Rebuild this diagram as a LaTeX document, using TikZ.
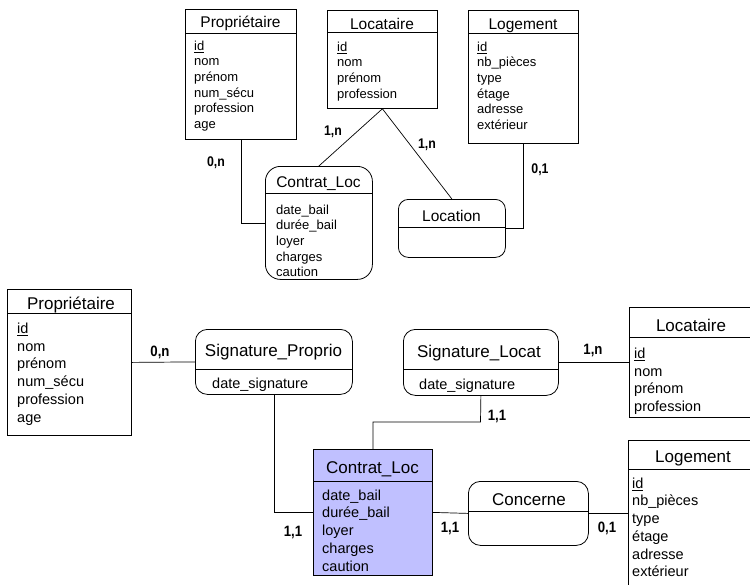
\documentclass[tikz,border=0pt]{standalone}
\usepackage{fontspec}
\setmainfont{Liberation Sans}
\newfontfamily\cardfont[FakeStretch=0.88]{Liberation Sans}
\definecolor{lavender}{RGB}{192,192,255}
\tikzset{
  x=1pt, y=-1pt,
  box/.style={draw, line width=0.8pt, inner sep=0pt, rectangle},
  relbox/.style={box, rounded corners=#1},
  relbox/.default=12pt,
  link/.style={line width=0.7pt},
  hdr/.style={line width=0.8pt},
  ttlA/.style={inner sep=0pt, anchor=base, font=\fontsize{15.5}{18}\selectfont},
  ttlB/.style={inner sep=0pt, anchor=base, font=\fontsize{17}{20}\selectfont},
  attA/.style={inner sep=0pt, anchor=north west, align=left, font=\fontsize{13}{15.6}\selectfont},
  attB/.style={inner sep=0pt, anchor=north west, align=left, font=\fontsize{14.5}{17.7}\selectfont},
  cardA/.style={inner sep=0pt, font=\cardfont\bfseries\fontsize{14}{16}\selectfont},
  cardB/.style={inner sep=0pt, font=\cardfont\bfseries\fontsize{15}{17}\selectfont},
}
% a box spanning (x1,y1)-(x2,y2)
\newcommand{\mkbox}[6]{%
  \node[#1, minimum width={#4-#2}, minimum height={#5-#3}, anchor=north west] (#6) at (#2,#3) {};}
\begin{document}
\begin{tikzpicture}
\clip (0,0) rectangle (750,584);
\fill[white] (0,0) rectangle (750,584);

% ---------------- upper schema ----------------
\mkbox{box}{185}{9}{296}{139}{p1}
\draw[hdr] (185,33) -- (296,33);
\node[ttlA] (p1t) at (240.5,27) {Propriétaire};
\node[attA] (p1a) at (194,40) {\rule{0pt}{10pt}\underline{id}\\nom\\prénom\\num\_sécu\\profession\\age};

\mkbox{box}{327}{10}{437}{108}{l1}
\draw[hdr] (327,32) -- (437,32);
\node[ttlA] (l1t) at (382,29) {Locataire};
\node[attA] (l1a) at (337,41) {\rule{0pt}{10pt}\underline{id}\\nom\\prénom\\profession};

\mkbox{box}{468}{10}{578}{143}{g1}
\draw[hdr] (468,33) -- (578,33);
\node[ttlA] (g1t) at (523,29) {Logement};
\node[attA] (g1a) at (477,41) {\rule{0pt}{10pt}\underline{id}\\nb\_pièces\\type\\étage\\adresse\\extérieur};

\mkbox{relbox=15pt}{265}{166}{372}{279}{c1}
\draw[hdr] (265,193) -- (372,193);
\node[ttlA] (c1t) at (318.5,187) {Contrat\_Loc};
\node[attA] (c1a) at (276,204) {\rule{0pt}{10pt}date\_bail\\durée\_bail\\loyer\\charges\\caution};

\mkbox{relbox=10pt}{398}{199}{505}{257}{loc}
\draw[hdr] (398,227) -- (505,227);
\node[ttlA] (loct) at (451.5,221) {Location};

\draw[link] (p1.south) |- (c1.west);
\draw[link] (l1.south) -- (c1.north);
\draw[link] (l1.south) -- (loc.north);
\draw[link] (g1.south) |- (loc.east);

\node[cardA] (k1) at (216,163) {0,n};
\node[cardA] (k2) at (333,132) {1,n};
\node[cardA] (k3) at (427,145) {1,n};
\node[cardA] (k4) at (540,170) {0,1};

% ---------------- lower schema ----------------
\mkbox{box}{7}{289}{131}{435}{p2}
\draw[hdr] (7,313) -- (131,313);
\node[ttlB] (p2t) at (71,309) {Propriétaire};
\node[attB] (p2a) at (17,322) {\rule{0pt}{11.3pt}\underline{id}\\nom\\prénom\\num\_sécu\\profession\\age};

\mkbox{relbox=12pt}{195}{329}{352}{394}{sp}
\draw[hdr] (195,369) -- (352,369);
\node[ttlB] (spt) at (273.5,356.5) {Signature\_Proprio};
\node[attB] (spa) at (212,377) {\rule{0pt}{11pt}date\_signature};

\mkbox{relbox=12pt}{403}{329}{558}{395}{sl}
\draw[hdr] (403,369) -- (558,369);
\node[ttlB] (slt) at (479,357) {Signature\_Locat};
\node[attB] (sla) at (419,378) {\rule{0pt}{11pt}date\_signature};

\mkbox{box}{629}{307}{753}{417}{l2}
\draw[hdr] (629,337) -- (753,337);
\node[ttlB] (l2t) at (691,331) {Locataire};
\node[attB] (l2a) at (634,347) {\rule{0pt}{11.3pt}\underline{id}\\nom\\prénom\\profession};

\mkbox{box, fill=lavender}{313}{449}{432}{575}{cl2}
\draw[hdr] (313,481) -- (432,481);
\node[ttlB] (cl2t) at (372.5,473.5) {Contrat\_Loc};
\node[attB] (cl2a) at (322,489) {\rule{0pt}{11pt}date\_bail\\durée\_bail\\loyer\\charges\\caution};

\mkbox{relbox=12pt}{468}{481}{588}{545}{cc}
\draw[hdr] (468,511) -- (588,511);
\node[ttlB] (cct) at (529,505) {Concerne};

\mkbox{box}{628}{440}{753}{600}{lg2}
\draw[hdr] (628,469) -- (753,469);
\node[ttlB] (lg2t) at (693,462) {Logement};
\node[attB] (lg2a) at (632,477) {\rule{0pt}{11pt}\underline{id}\\nb\_pièces\\type\\étage\\adresse\\extérieur};

\draw[link] (p2.east) -- (sp.west);
\draw[link] (sl.east) -- (l2.west);
\draw[link] (sp.south) |- (cl2.west);
\coordinate (jn) at (480.5,422);
\draw[link] (sl.south) -- (jn) -| (cl2.north);
\draw[link] (cl2.east) -- (cc.west);
\draw[link] (cc.east) -- (cc.east -| lg2.west);

\node[cardB] (k5) at (160,352) {0,n};
\node[cardB] (k6) at (593,350) {1,n};
\node[cardB] (k7) at (497,416) {1,1};
\node[cardB] (k8) at (293,532) {1,1};
\node[cardB] (k9) at (450,528) {1,1};
\node[cardB] (k10) at (607,528) {0,1};
\end{tikzpicture}
\end{document}
